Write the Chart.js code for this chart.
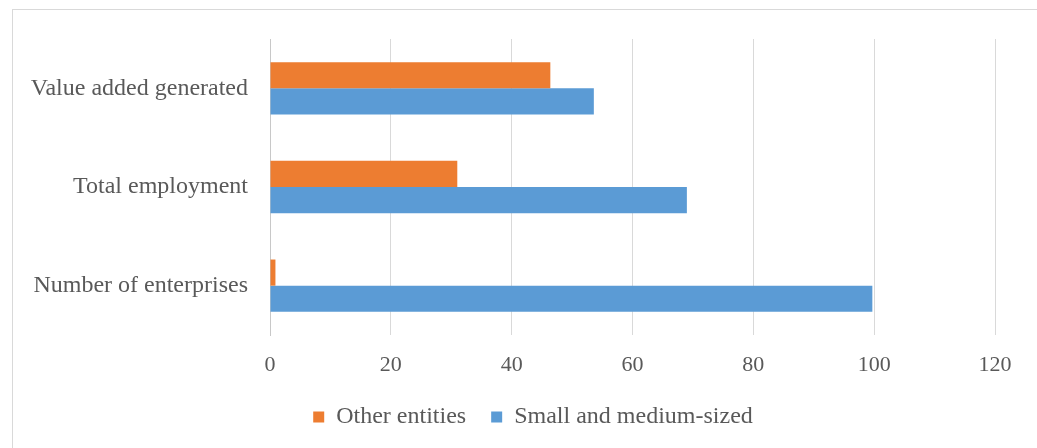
<!DOCTYPE html>
<html>
<head>
<meta charset="utf-8">
<script src="https://cdn.jsdelivr.net/npm/chart.js@4/dist/chart.umd.min.js"></script>
<style>
  html, body { margin: 0; padding: 0; background: #ffffff; }
  #wrap { width: 1037px; height: 448px; }
</style>
</head>
<body>
<div id="wrap"><canvas id="chart" width="1037" height="448"></canvas></div>
<script>
// Shares (%) of small/medium-sized enterprises vs other entities
const categories = ['Value added generated', 'Total employment', 'Number of enterprises'];
const otherEntities = [46.4, 31.0, 0.9];
const smallMedium = [53.6, 69.0, 99.7];
const xTicks = [0, 20, 40, 60, 80, 100, 120];

const TEXT = '#595959';
const FONT = 'Liberation Serif';

// White background plus a thin outer frame; legend nudged right of the axis-label column
const frame = {
  id: 'frame',
  afterLayout(chart) {
    if (chart.legend) chart.legend.left = 71;
  },
  beforeDraw(chart) {
    const ctx = chart.ctx;
    ctx.save();
    ctx.fillStyle = '#ffffff';
    ctx.fillRect(0, 0, chart.width, chart.height);
    ctx.strokeStyle = '#d9d9d9';
    ctx.lineWidth = 1;
    ctx.strokeRect(12.5, 9.5, 1100, 600);
    ctx.restore();
  }
};

new Chart(document.getElementById('chart'), {
  type: 'bar',
  data: {
    labels: categories,
    datasets: [
      { label: 'Other entities', data: otherEntities, backgroundColor: '#ED7D31' },
      { label: 'Small and medium-sized', data: smallMedium, backgroundColor: '#5B9BD5' }
    ]
  },
  options: {
    indexAxis: 'y',
    responsive: false,
    animation: false,
    maintainAspectRatio: false,
    datasets: { bar: { categoryPercentage: 0.53, barPercentage: 1.0 } },
    layout: { padding: { top: 39, left: 0, right: 42, bottom: 9 } },
    scales: {
      x: {
        min: 0,
        max: 120,
        afterBuildTicks(scale) { scale.ticks = xTicks.map(v => ({ value: v })); },
        afterFit(scale) { scale.height = 45; },
        grid: { color: '#d9d9d9', lineWidth: 1, drawTicks: false },
        border: { display: false },
        ticks: { color: TEXT, font: { family: FONT, size: 22 }, padding: 17 }
      },
      y: {
        afterFit(scale) { scale.width = 270; },
        grid: { display: false, drawTicks: false },
        border: { display: true, color: '#c8c8c8', width: 1 },
        ticks: { color: TEXT, font: { family: FONT, size: 24 }, padding: 22 }
      }
    },
    plugins: {
      legend: {
        position: 'bottom',
        labels: {
          color: TEXT,
          font: { family: FONT, size: 24 },
          boxWidth: 11,
          boxHeight: 11,
          padding: 25
        }
      },
      tooltip: { enabled: false }
    }
  },
  plugins: [frame]
});
</script>
</body>
</html>
